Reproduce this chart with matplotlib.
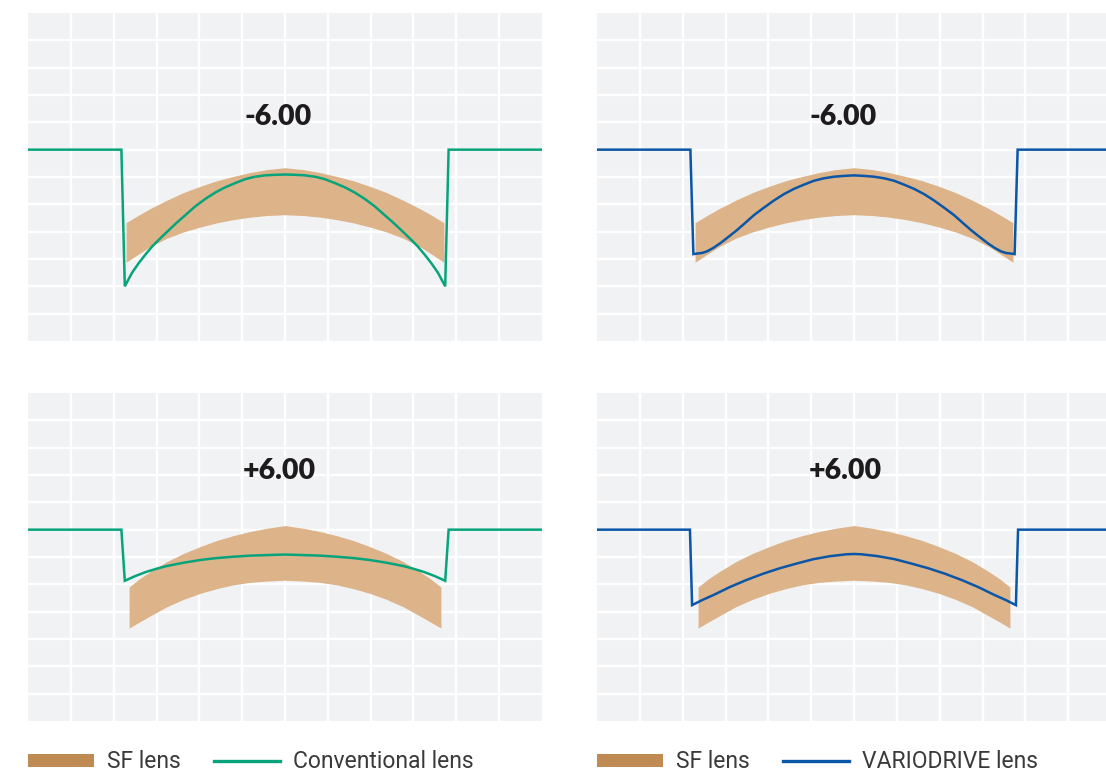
import matplotlib
matplotlib.use("Agg")
import matplotlib.pyplot as plt
from matplotlib.patches import Patch
from matplotlib.lines import Line2D

# ---------------- data ----------------
titles = ["-6.00", "-6.00", "+6.00", "+6.00"]

# SF lens band (-6.00 panels)
band_top_x = [2.29, 2.60, 2.85, 3.24, 3.63, 4.02, 4.40, 4.79, 5.18, 5.57, 6.00,
              6.43, 6.82, 7.21, 7.60, 7.98, 8.37, 8.76, 9.15, 9.40, 9.71]
band_top_upper = [4.33, 4.62, 4.84, 5.15, 5.43, 5.66, 5.86, 6.02, 6.16, 6.27, 6.34,
                  6.27, 6.16, 6.02, 5.86, 5.66, 5.43, 5.15, 4.84, 4.62, 4.33]
band_top_lower = [2.88, 3.20, 3.45, 3.76, 3.99, 4.17, 4.32, 4.44, 4.53, 4.59, 4.62,
                  4.59, 4.53, 4.44, 4.32, 4.17, 3.99, 3.76, 3.45, 3.20, 2.88]

# SF lens band (+6.00 panels)
band_bot_x = [2.36, 2.60, 2.85, 3.24, 3.63, 4.02, 4.40, 4.79, 5.18, 5.57, 6.00,
              6.43, 6.82, 7.21, 7.60, 7.98, 8.37, 8.76, 9.15, 9.40, 9.64]
band_bot_upper = [4.90, 5.20, 5.46, 5.83, 6.13, 6.38, 6.60, 6.78, 6.93, 7.05, 7.15,
                  7.05, 6.93, 6.78, 6.60, 6.38, 6.13, 5.83, 5.46, 5.20, 4.90]
band_bot_lower = [3.40, 3.62, 3.84, 4.18, 4.45, 4.67, 4.84, 4.98, 5.07, 5.12, 5.15,
                  5.12, 5.07, 4.98, 4.84, 4.67, 4.45, 4.18, 3.84, 3.62, 3.40]

# Conventional lens, -6.00
conv_neg_x = [0, 2.18, 2.26, 2.43, 2.59, 2.74, 2.90, 3.09, 3.29, 3.48, 3.67, 3.90,
              4.14, 4.37, 4.60, 4.84, 5.07, 5.30, 5.53, 5.76, 6.00,
              6.24, 6.47, 6.70, 6.93, 7.16, 7.40, 7.63, 7.86, 8.10, 8.33,
              8.52, 8.71, 8.91, 9.10, 9.26, 9.41, 9.57, 9.74, 9.82, 12]
conv_neg_y = [7.0, 7.0, 2.00, 2.50, 2.86, 3.16, 3.46, 3.76, 4.06, 4.34, 4.60, 4.92,
              5.20, 5.43, 5.62, 5.78, 5.92, 6.01, 6.06, 6.08, 6.09,
              6.08, 6.06, 6.01, 5.92, 5.78, 5.62, 5.43, 5.20, 4.92, 4.60,
              4.34, 4.06, 3.76, 3.46, 3.16, 2.86, 2.50, 2.00, 7.0, 7.0]

# VARIODRIVE lens, -6.00
vario_neg_x = [0, 2.18, 2.25, 2.34, 2.45, 2.57, 2.72, 2.88, 3.07, 3.27, 3.46, 3.66,
               3.89, 4.13, 4.36, 4.59, 4.83, 5.06, 5.29, 5.53, 5.76, 6.00,
               6.24, 6.47, 6.71, 6.94, 7.17, 7.41, 7.64, 7.87, 8.11, 8.34,
               8.54, 8.73, 8.93, 9.12, 9.28, 9.43, 9.55, 9.66, 9.75, 9.82, 12]
vario_neg_y = [7.0, 7.0, 3.18, 3.20, 3.22, 3.28, 3.41, 3.58, 3.81, 4.06, 4.32, 4.60,
               4.87, 5.14, 5.37, 5.56, 5.72, 5.86, 5.95, 6.01, 6.04, 6.06,
               6.04, 6.01, 5.95, 5.86, 5.72, 5.56, 5.37, 5.14, 4.87, 4.60,
               4.32, 4.06, 3.81, 3.58, 3.41, 3.28, 3.22, 3.20, 3.18, 7.0, 7.0]

# Conventional lens, +6.00
conv_pos_x = [0, 2.18, 2.26, 2.50, 2.75, 3.00, 3.24, 3.63, 4.02, 4.40, 4.79, 5.18, 5.57, 6.00,
              6.43, 6.82, 7.21, 7.60, 7.98, 8.37, 8.76, 9.00, 9.25, 9.50, 9.74, 9.82, 12]
conv_pos_y = [7.0, 7.0, 5.13, 5.30, 5.45, 5.57, 5.67, 5.79, 5.89, 5.96, 6.01, 6.05, 6.07, 6.09,
              6.07, 6.05, 6.01, 5.96, 5.89, 5.79, 5.67, 5.57, 5.45, 5.30, 5.13, 7.0, 7.0]

# VARIODRIVE lens, +6.00
vario_pos_x = [0, 2.17, 2.22, 2.45, 2.72, 3.10, 3.49, 3.88, 4.27, 4.66, 5.05, 5.44, 5.83, 6.00,
               6.17, 6.56, 6.95, 7.34, 7.73, 8.12, 8.51, 8.90, 9.28, 9.55, 9.78, 9.83, 12]
vario_pos_y = [7.0, 7.0, 4.24, 4.42, 4.61, 4.90, 5.16, 5.39, 5.59, 5.76, 5.92, 6.03, 6.10, 6.11,
               6.10, 6.03, 5.92, 5.76, 5.59, 5.39, 5.16, 4.90, 4.61, 4.42, 4.24, 7.0, 7.0]

legend_left = ["SF lens", "Conventional lens"]
legend_right = ["SF lens", "VARIODRIVE lens"]

# ---------------- style ----------------
BG = "#F1F2F4"
BAND = "#DDB389"
BAND_LEG = "#BF8B52"
GREEN = "#07A47C"
BLUE = "#0B56A6"
TXT = "#3A3A3A"

W, H = 1106, 775
fig = plt.figure(figsize=(W / 100, H / 100), dpi=100)
fig.patch.set_facecolor("white")


def make_ax(left, top, width=514, height=328):
    ax = fig.add_axes([left / W, (H - top - height) / H, width / W, height / H])
    ax.set_facecolor(BG)
    ax.set_xlim(0, 12)
    ax.set_ylim(0, 12)
    ax.set_xticks(range(1, 12))
    ax.set_yticks(range(1, 12))
    ax.grid(True, color="white", linewidth=1.7)
    ax.set_axisbelow(True)
    ax.tick_params(length=0, labelbottom=False, labelleft=False)
    for s in ax.spines.values():
        s.set_visible(False)
    return ax


axes = [make_ax(28, 13), make_ax(597, 13), make_ax(28, 393), make_ax(597, 393)]

panels = [
    (band_top_x, band_top_upper, band_top_lower, conv_neg_x, conv_neg_y, GREEN, 5.84, 8.2),
    (band_top_x, band_top_upper, band_top_lower, vario_neg_x, vario_neg_y, BLUE, 5.74, 8.2),
    (band_bot_x, band_bot_upper, band_bot_lower, conv_pos_x, conv_pos_y, GREEN, 5.86, 9.13),
    (band_bot_x, band_bot_upper, band_bot_lower, vario_pos_x, vario_pos_y, BLUE, 5.8, 9.13),
]

for ax, (bx, bu, bl, lx, ly, col, tx, ty), title in zip(axes, panels, titles):
    ax.fill_between(bx, bl, bu, color=BAND, linewidth=0, zorder=2)
    ax.plot(lx, ly, color=col, linewidth=1.8, zorder=3, solid_joinstyle="miter")
    ax.text(tx, ty, title, ha="center", va="center", fontsize=20.5,
            fontweight="heavy", family="Lato", color="#1E1B1D", zorder=4)


def add_legend(x_px, line_color, labels):
    handles = [Patch(facecolor=BAND_LEG, edgecolor="none"),
               Line2D([], [], color=line_color, linewidth=2.4)]
    fig.legend(handles, labels, loc="center left",
               bbox_to_anchor=(x_px / W, (H - 762) / H), ncol=2, frameon=False,
               prop={"family": "Roboto", "size": 16.5}, labelcolor=TXT,
               handlelength=2.88, handleheight=0.52, handletextpad=0.57,
               columnspacing=1.44, borderpad=0, borderaxespad=0)


add_legend(28, GREEN, legend_left)
add_legend(597, BLUE, legend_right)

fig.savefig("out.png", dpi=100)
